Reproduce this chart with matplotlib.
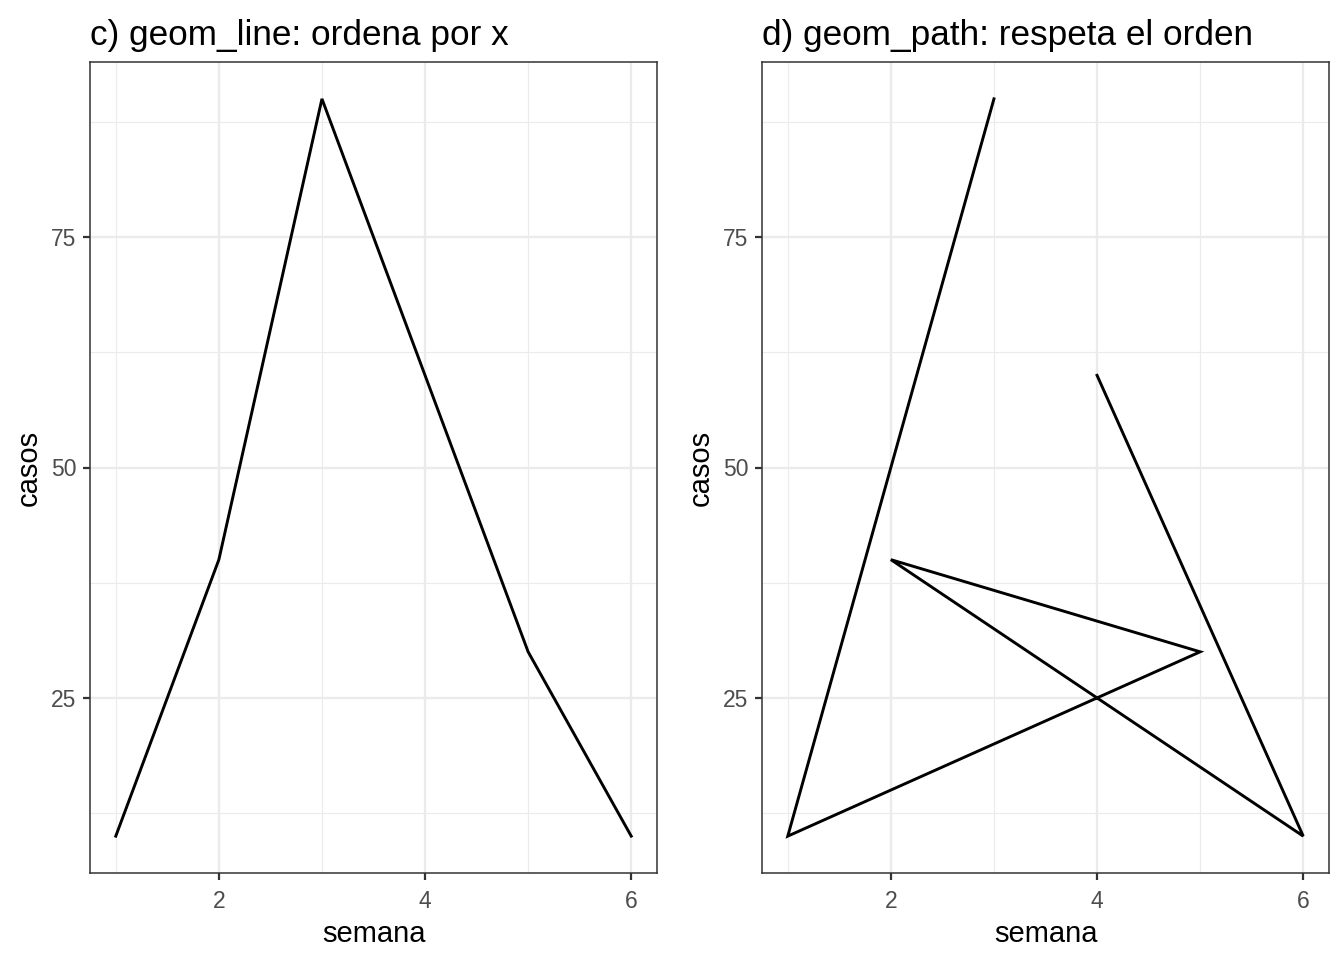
import matplotlib
matplotlib.use("Agg")
import matplotlib.pyplot as plt
import numpy as np

semana = [3, 1, 5, 2, 6, 4]
casos = [90, 10, 30, 40, 10, 60]
titles = ["c) geom_line: ordena por x", "d) geom_path: respeta el orden"]
x_ticks = [2, 4, 6]
x_minor = [1, 3, 5]
y_ticks = [25, 50, 75]
y_minor = [12.5, 37.5, 62.5, 87.5]

plt.rcParams['font.family'] = ['Liberation Sans', 'DejaVu Sans']

fig = plt.figure(figsize=(13.44, 9.6), dpi=100)
W, H = 1344, 960
lefts = [90, 762]
axes = [fig.add_axes([l / W, 1 - 873 / H, 567 / W, 811 / H]) for l in lefts]

order = np.argsort(semana, kind="stable")
data = [
    (np.array(semana)[order], np.array(casos)[order]),
    (np.array(semana), np.array(casos)),
]

for ax, (xs, ys), title in zip(axes, data, titles):
    ax.set_axisbelow(True)
    ax.set_xlim(0.75, 6.25)
    ax.set_ylim(6, 94)
    ax.set_xticks(x_ticks)
    ax.set_xticks(x_minor, minor=True)
    ax.set_yticks(y_ticks)
    ax.set_yticks(y_minor, minor=True)
    ax.grid(which="major", color="#EBEBEB", linewidth=1.7)
    ax.grid(which="minor", color="#EBEBEB", linewidth=0.85)
    ax.plot(xs, ys, color="black", linewidth=2.1, solid_joinstyle="miter")
    for s in ax.spines.values():
        s.set_color("#333333")
        s.set_linewidth(1.1)
    ax.tick_params(which="major", length=5, width=1.6, color="#333333",
                   labelsize=16.5, labelcolor="#4D4D4D")
    ax.tick_params(axis="x", which="major", pad=7)
    ax.tick_params(axis="y", which="major", pad=5)
    ax.tick_params(which="minor", length=0)
    ax.set_xlabel("semana", fontsize=21, labelpad=5)
    ax.set_ylabel("casos", fontsize=21, labelpad=6)
    ax.set_title(title, fontsize=25.3, loc="left", pad=12, x=0)

fig.savefig("out.png", dpi=100)
